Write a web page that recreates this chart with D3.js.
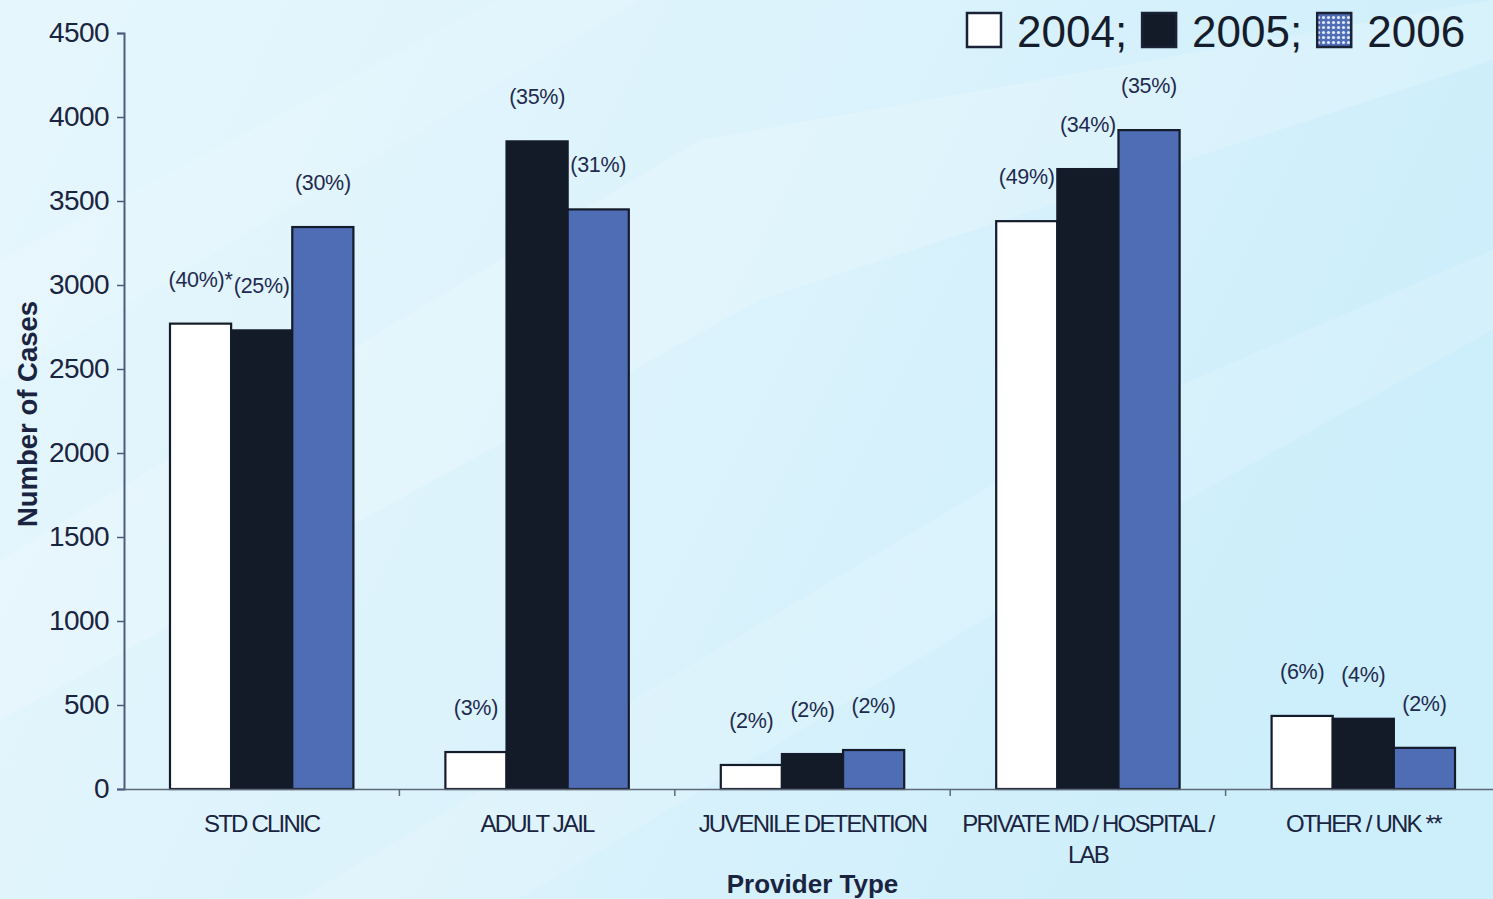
<!DOCTYPE html>
<html>
<head>
<meta charset="utf-8">
<script src="https://cdn.jsdelivr.net/npm/d3@7"></script>
<style>
html,body{margin:0;padding:0;background:#dff3fb;}
svg{display:block;font-family:"Liberation Sans",Arial,Helvetica,sans-serif;}
</style>
</head>
<body>
<svg id="chart" width="1493" height="899"></svg>
<script>
const categories = ["STD CLINIC", "ADULT JAIL", "JUVENILE DETENTION", "PRIVATE MD / HOSPITAL / LAB", "OTHER / UNK **"];
const years = ["2004", "2005", "2006"];
const values2004 = [2770, 220, 143, 3380, 435];
const values2005 = [2730, 3855, 208, 3690, 418];
const values2006 = [3345, 3450, 232, 3922, 245];
const pct2004 = ["(40%)*", "(3%)", "(2%)", "(49%)", "(6%)"];
const pct2005 = ["(25%)", "(35%)", "(2%)", "(34%)", "(4%)"];
const pct2006 = ["(30%)", "(31%)", "(2%)", "(35%)", "(2%)"];
const yTicks = [0, 500, 1000, 1500, 2000, 2500, 3000, 3500, 4000, 4500];

const W = 1493, H = 899;
const margin = {left: 124, right: -8, top: 33, bottom: 110};
const svg = d3.select("#chart");

// background
const defs = svg.append("defs");
const bg = defs.append("linearGradient").attr("id","bg").attr("x1","0").attr("y1","0").attr("x2","1").attr("y2","0.3");
bg.append("stop").attr("offset","0").attr("stop-color","#e6f6fd");
bg.append("stop").attr("offset","0.5").attr("stop-color","#dcf3fc");
bg.append("stop").attr("offset","1").attr("stop-color","#cdeefb");
svg.append("rect").attr("width",W).attr("height",H).attr("fill","url(#bg)");
const streaks = [
  [[0,560],[700,140],[1493,0],[1493,60],[760,300],[0,720]],
  [[300,899],[1100,420],[1493,250],[1493,330],[1150,520],[520,899]],
  [[0,260],[500,0],[640,0],[0,380]]
];
svg.append("g").selectAll("path").data(streaks).join("path")
  .attr("d", d => d3.line()(d) + "Z")
  .attr("fill", "#ffffff").attr("opacity", (d,i) => [0.18,0.14,0.12][i]);

// pattern for 2006 legend
const pat = defs.append("pattern").attr("id","dots").attr("width",5).attr("height",5).attr("patternUnits","userSpaceOnUse");
pat.append("rect").attr("width",5).attr("height",5).attr("fill","#4f6db5");
pat.append("circle").attr("cx",2.5).attr("cy",2.5).attr("r",1.6).attr("fill","#dfe8fb");

const x0 = d3.scaleBand().domain(categories).range([margin.left, W - margin.right]).padding(0);
const bw = x0.bandwidth();
const x1 = d3.scaleBand().domain(years).range([bw*0.167, bw*0.833]).padding(0);
const y = d3.scaleLinear().domain([0, 4500]).range([789, margin.top]);

const colors = {"2004":"#ffffff","2005":"#131a28","2006":"#4f6db5"};
const data = categories.map((c,i) => ({
  cat: c,
  bars: [
    {year:"2004", v: values2004[i], p: pct2004[i]},
    {year:"2005", v: values2005[i], p: pct2005[i]},
    {year:"2006", v: values2006[i], p: pct2006[i]}
  ]
}));

// bars
const groups = svg.append("g").selectAll("g").data(data).join("g")
  .attr("transform", d => `translate(${x0(d.cat)},0)`);
groups.selectAll("rect").data(d => d.bars).join("rect")
  .attr("x", d => x1(d.year))
  .attr("y", d => y(d.v))
  .attr("width", x1.bandwidth())
  .attr("height", d => y(0) - y(d.v))
  .attr("fill", d => colors[d.year])
  .attr("stroke", "#141b2b").attr("stroke-width", 2.2);

groups.selectAll("text").data(d => d.bars).join("text")
  .attr("x", d => x1(d.year) + x1.bandwidth()/2)
  .attr("y", d => y(d.v) - 37)
  .attr("text-anchor", "middle")
  .attr("font-size", 21.5).attr("letter-spacing", "-0.3px")
  .attr("fill", "#1e2a4e")
  .text(d => d.p);

// y axis
const yAxis = svg.append("g").attr("transform", `translate(${margin.left},0)`)
  .call(d3.axisLeft(y).tickValues(yTicks).tickSize(7).tickPadding(8).tickFormat(d3.format("d")));
yAxis.select(".domain").attr("stroke","#4c5c7e").attr("stroke-width",2);
yAxis.selectAll(".tick line").attr("stroke","#4c5c7e").attr("stroke-width",1.5);
yAxis.selectAll(".tick text").attr("font-size",28).attr("fill","#1a2440").attr("font-family","Liberation Sans, Arial, sans-serif").attr("letter-spacing","-0.6px");

// x axis
const xAxis = svg.append("g").attr("transform", `translate(0,${y(0)})`)
  .call(d3.axisBottom(x0).tickSize(0).tickPadding(0).tickFormat(""));
xAxis.select(".domain").attr("stroke","#5d6878").attr("stroke-width",1.5);
xAxis.selectAll(".tick line").remove();
svg.append("g").selectAll("line").data(categories.slice(1)).join("line")
  .attr("x1", d => x0(d)).attr("x2", d => x0(d))
  .attr("y1", y(0)).attr("y2", y(0) + 7)
  .attr("stroke","#5d6878").attr("stroke-width",1.5);

// category labels with wrapping
const catLabels = svg.append("g").selectAll("text").data(categories).join("text")
  .attr("x", d => x0(d) + bw/2)
  .attr("y", 832)
  .attr("text-anchor","middle")
  .attr("font-size",24).attr("letter-spacing","-1.8px")
  .attr("fill","#1a2440");
catLabels.each(function(d){
  const t = d3.select(this);
  const words = d.split(" ");
  let line = [];
  let tspan = t.append("tspan").attr("x", x0(d)+bw/2).attr("dy", 0);
  words.forEach(w => {
    line.push(w);
    tspan.text(line.join(" "));
    if (tspan.node().getComputedTextLength() > bw - 10 && line.length > 1) {
      line.pop();
      tspan.text(line.join(" "));
      line = [w];
      tspan = t.append("tspan").attr("x", x0(d)+bw/2).attr("dy", 31).text(w);
    }
  });
});

// axis titles
svg.append("text").attr("x", (margin.left + W - margin.right)/2).attr("y", 893)
  .attr("text-anchor","middle").attr("font-size",26).attr("font-weight","bold")
  .attr("fill","#1a2440").text("Provider Type");
svg.append("text").attr("transform","translate(37,414) rotate(-90)")
  .attr("text-anchor","middle").attr("font-size",27.5).attr("font-weight","bold")
  .attr("fill","#1a2440").text("Number of Cases");

// legend
const legendItems = [
  {year:"2004", fill:"#ffffff", label:"2004;"},
  {year:"2005", fill:"#131a28", label:"2005;"},
  {year:"2006", fill:"url(#dots)", label:"2006"}
];
const lg = svg.append("g").attr("transform","translate(966,0)");
let lx = 0;
legendItems.forEach(it => {
  lg.append("rect").attr("x", lx+1).attr("y", 13).attr("width", 34).attr("height", 34)
    .attr("fill", it.fill).attr("stroke","#1a2235").attr("stroke-width",2.5);
  const t = lg.append("text").attr("x", lx + 51).attr("y", 47)
    .attr("font-size",44).attr("fill","#151c2c").attr("letter-spacing","0px").text(it.label);
  lx += 51 + t.node().getComputedTextLength() + 14;
});
</script>
</body>
</html>
